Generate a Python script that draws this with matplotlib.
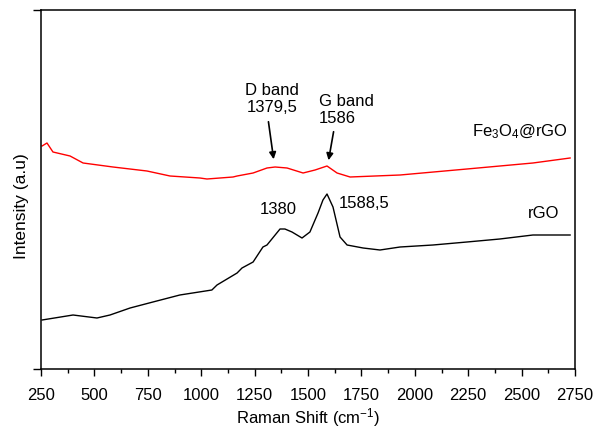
import matplotlib
matplotlib.use("Agg")
import matplotlib.pyplot as plt

plt.rcParams['font.family'] = ['Liberation Sans', 'DejaVu Sans']
plt.rcParams['mathtext.default'] = 'regular'

# Fe3O4@rGO spectrum (red)
fe_shift = [255, 278, 306, 386, 447, 587, 746, 854, 994, 1027, 1149, 1168, 1243,
            1308, 1346, 1402, 1477, 1533, 1589, 1636, 1697, 1931, 2244, 2553, 2727]
fe_int = [223, 226, 217, 213, 206, 202, 198, 193, 191, 190, 192, 193, 196,
          201, 202, 201, 196, 199, 203, 196, 192, 194, 200, 206, 211]

# rGO spectrum (black)
rgo_shift = [255, 400, 512, 573, 667, 774, 900, 1050, 1074, 1168, 1191, 1243, 1289,
             1308, 1369, 1392, 1425, 1472, 1509, 1547, 1570, 1589, 1617, 1650, 1683,
             1758, 1837, 1931, 2085, 2244, 2398, 2553, 2727]
rgo_int = [49, 54, 51, 54, 61, 67, 74, 79, 84, 96, 101, 107, 122,
           124, 140, 140, 137, 131, 137, 156, 169, 175, 162, 132, 124,
           121, 119, 122, 124, 127, 130, 134, 134]

fig = plt.figure(figsize=(6.01, 4.28), dpi=100)
ax = fig.add_axes([41 / 601, 1 - 369 / 428, 534 / 601, 359 / 428])

ax.plot(fe_shift, fe_int, color='#ff0000', lw=1.0)
ax.plot(rgo_shift, rgo_int, color='black', lw=1.0)

ax.set_xlim(250, 2750)
ax.set_ylim(0, 359)
ax.set_xticks(range(250, 2751, 250))
ax.set_xticks(range(375, 2750, 250), minor=True)
ax.set_yticks([0, 359])
ax.set_yticklabels([])

ax.tick_params(axis='x', which='major', direction='out', length=5, width=1, labelsize=12, pad=9)
ax.tick_params(axis='x', which='minor', direction='out', length=3, width=1)
ax.tick_params(axis='y', which='major', direction='out', length=6, width=1)
for sp in ax.spines.values():
    sp.set_linewidth(1.1)

ax.set_xlabel("Raman Shift (cm$^{-1}$)", fontsize=12, labelpad=2)
ax.set_ylabel("Intensity (a.u)", fontsize=12.5)
ax.yaxis.set_label_coords(-0.0225, 0.454)

# Annotations
fs = 12
ax.text(1331, 270, "D band\n1379,5", ha='center', va='center', fontsize=fs, linespacing=1.1)
ax.annotate("", xy=(1341, 207), xytext=(1313, 250),
            arrowprops=dict(arrowstyle='-|>', color='black', lw=1.2, mutation_scale=10))
ax.text(1552, 259, "G band\n1586", ha='left', va='center', fontsize=fs,
        linespacing=1.2, multialignment='left')
ax.annotate("", xy=(1594, 206), xytext=(1622, 240),
            arrowprops=dict(arrowstyle='-|>', color='black', lw=1.2, mutation_scale=10))
ax.text(1360, 160, "1380", ha='center', va='center', fontsize=fs)
ax.text(1645, 166, "1588,5", ha='left', va='center', fontsize=fs)
ax.text(2717, 237, "Fe$_3$O$_4$@rGO", ha='right', va='center', fontsize=fs)
ax.text(2530, 156, "rGO", ha='left', va='center', fontsize=fs)

fig.savefig("out.png", dpi=100)
